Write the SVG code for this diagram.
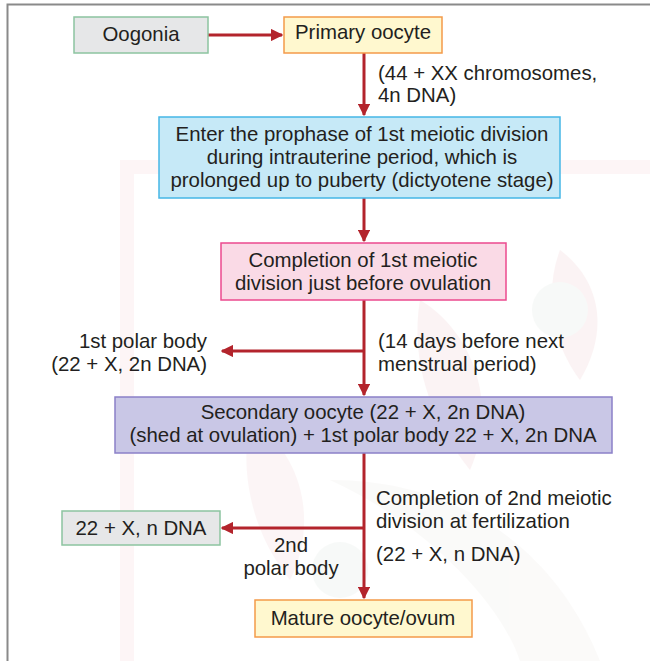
<svg xmlns="http://www.w3.org/2000/svg" width="650" height="661" viewBox="0 0 650 661">
<defs>
<marker id="ah" viewBox="0 0 10 10" refX="9" refY="5" markerWidth="4.2" markerHeight="4.2" orient="auto" markerUnits="strokeWidth">
<path d="M0,0 L10,5 L0,10 Z" fill="#b3242c"/>
</marker>
</defs>
<style>
text{font-family:"Liberation Sans",Arial,sans-serif;font-size:20.4px;fill:#231f20}
.c{text-anchor:middle}
.r{text-anchor:end}
.ln{stroke:#b3242c;stroke-width:3;fill:none}
.gray{fill:#e6e7e8;stroke:#8cc4a0;stroke-width:1.5}
.yel{fill:#fff8cf;stroke:#f49a4a;stroke-width:1.5}
.blue{fill:#c6e9f7;stroke:#45b6e6;stroke-width:1.5}
.pink{fill:#fadae6;stroke:#ec4a8e;stroke-width:1.5}
.purp{fill:#c9c7e6;stroke:#8b80c8;stroke-width:1.5}
</style>
<rect width="650" height="661" fill="#ffffff"/>
<g id="watermark" opacity="0.35">
<rect x="120" y="160" width="530" height="14" fill="#fbe3e6"/>
<rect x="120" y="160" width="14" height="501" fill="#fbe3e6"/>
<path d="M420,300 C470,330 500,400 470,470 C430,420 410,360 420,300 Z" fill="#f6dde0"/>
<path d="M560,250 C600,280 610,330 580,380 C550,340 545,290 560,250 Z" fill="#f6dde0"/>
<path d="M250,420 C300,450 320,520 290,580 C250,530 240,470 250,420 Z" fill="#f8e4e6"/>
<path d="M330,480 C420,520 500,600 520,661 L600,661 C560,560 470,480 330,480 Z" fill="#f3f1ee"/>
<circle cx="560" cy="310" r="28" fill="#eaf0ec"/>
<circle cx="340" cy="570" r="28" fill="#eaf0ec"/>
</g>
<path d="M7.5,661 L7.5,4.5 L650,4.5" fill="none" stroke="#8a8a8a" stroke-width="2"/>
<g id="connectors">
<line class="ln" x1="208" y1="35" x2="282" y2="35" marker-end="url(#ah)"/>
<line class="ln" x1="364" y1="53" x2="364" y2="115" marker-end="url(#ah)"/>
<line class="ln" x1="364" y1="198" x2="364" y2="241" marker-end="url(#ah)"/>
<line class="ln" x1="364" y1="300" x2="364" y2="395" marker-end="url(#ah)"/>
<line class="ln" x1="364" y1="351" x2="222" y2="351" marker-end="url(#ah)"/>
<line class="ln" x1="364" y1="453" x2="364" y2="598" marker-end="url(#ah)"/>
<line class="ln" x1="364" y1="528" x2="222" y2="528" marker-end="url(#ah)"/>
</g>
<g id="oogonia">
<rect class="gray" x="74" y="17" width="134" height="36"/>
<text class="c" x="141" y="41">Oogonia</text>
</g>
<g id="primary-oocyte">
<rect class="yel" x="284" y="17" width="158" height="36"/>
<text class="c" x="363" y="39">Primary oocyte</text>
</g>
<g id="label-44xx">
<text x="378" y="80">(44 + XX chromosomes,</text>
<text x="378" y="102">4n DNA)</text>
</g>
<g id="prophase">
<rect class="blue" x="159" y="117" width="401" height="81"/>
<text class="c" x="362" y="141">Enter the prophase of 1st meiotic division</text>
<text class="c" x="362" y="164">during intrauterine period, which is</text>
<text class="c" x="362" y="187">prolonged up to puberty (dictyotene stage)</text>
</g>
<g id="completion1">
<rect class="pink" x="221" y="243" width="285" height="57"/>
<text class="c" x="363" y="267">Completion of 1st meiotic</text>
<text class="c" x="363" y="290">division just before ovulation</text>
</g>
<g id="polar1">
<text class="r" x="207" y="348">1st polar body</text>
<text class="r" x="207" y="371">(22 + X, 2n DNA)</text>
</g>
<g id="label-14days">
<text x="378" y="348">(14 days before next</text>
<text x="378" y="371">menstrual period)</text>
</g>
<g id="secondary-oocyte">
<rect class="purp" x="115" y="397" width="497" height="56"/>
<text class="c" x="363" y="419">Secondary oocyte (22 + X, 2n DNA)</text>
<text class="c" x="363" y="442">(shed at ovulation) + 1st polar body 22 + X, 2n DNA</text>
</g>
<g id="label-completion2">
<text x="376" y="505">Completion of 2nd meiotic</text>
<text x="376" y="528">division at fertilization</text>
<text x="376" y="561">(22 + X, n DNA)</text>
</g>
<g id="polar2">
<rect class="gray" x="62" y="511" width="158" height="34"/>
<text class="c" x="141" y="535">22 + X, n DNA</text>
<text class="c" x="291" y="552">2nd</text>
<text class="c" x="291" y="575">polar body</text>
</g>
<g id="mature-ovum">
<rect class="yel" x="255" y="600" width="217" height="37"/>
<text class="c" x="363" y="625">Mature oocyte/ovum</text>
</g>
</svg>
